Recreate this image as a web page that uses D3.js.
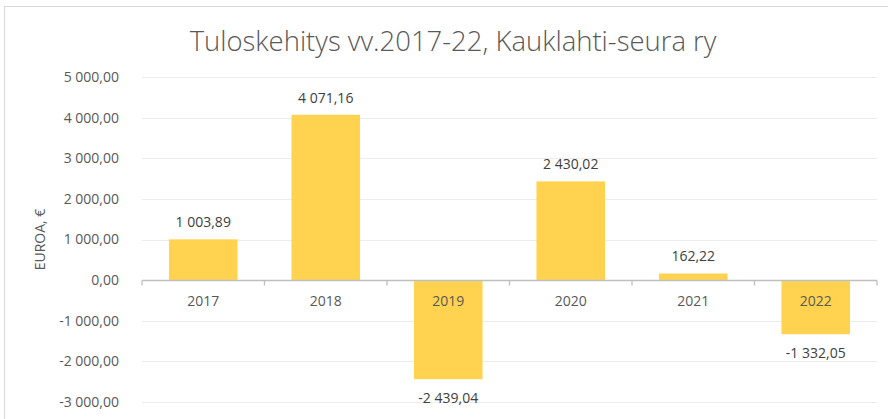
<!DOCTYPE html>
<html><head><meta charset="utf-8">
<script src="https://cdn.jsdelivr.net/npm/d3@7"></script>
<style>body{margin:0;background:#fff}svg{display:block}</style>
</head><body>
<svg id="c" width="888" height="419"></svg>
<script>
const categories = ["2017","2018","2019","2020","2021","2022"];
const values = [1003.89, 4071.16, -2439.04, 2430.02, 162.22, -1332.05];
const yTicks = [-3000,-2000,-1000,0,1000,2000,3000,4000,5000];
const title = "Tuloskehitys vv.2017-22, Kauklahti-seura ry";
const yLabel = "EUROA, €";

const svg = d3.select("#c");
const font = "'Open Sans', sans-serif";
const grey = "#595959";
const fs = 14;

svg.append("rect").attr("x",4.5).attr("y",6.5).attr("width",1000).attr("height",1000)
  .attr("fill","#fff").attr("stroke","#d9d9d9");

const x = d3.scaleBand().domain(categories).range([142,877]).paddingInner(0.44).paddingOuter(0.22);
const y = d3.scaleLinear().domain([-3000,5000]).range([402,77]);

const fmt = v => {
  const s = d3.format(",.2f")(Math.abs(v)).replace(/,/g," ").replace(".",",");
  return (v<0?"-":"") + s;
};

// gridlines
svg.append("g").selectAll("line").data(yTicks.filter(t=>t!==0)).join("line")
  .attr("x1",142).attr("x2",877).attr("y1",d=>Math.round(y(d))+0.5).attr("y2",d=>Math.round(y(d))+0.5)
  .attr("stroke","#ececec").attr("stroke-width",1);

// y tick labels
svg.append("g").selectAll("text").data(yTicks).join("text")
  .attr("x",119).attr("y",d=>y(d)).attr("dy","0.35em").attr("text-anchor","end")
  .attr("font-family",font).attr("font-size",fs).attr("fill",grey).text(fmt);

// bars
svg.append("g").selectAll("rect").data(values).join("rect")
  .attr("x",(d,i)=>x(categories[i])).attr("width",x.bandwidth())
  .attr("y",d=>y(Math.max(0,d))).attr("height",d=>Math.abs(y(d)-y(0)))
  .attr("fill","#FFD34F");

// zero axis
const ax = svg.append("g").attr("transform",`translate(0,${Math.round(y(0))+0.5})`);
ax.append("line").attr("x1",142).attr("x2",877).attr("stroke","#bfbfbf").attr("stroke-width",1.3);
const bounds = [142].concat(categories.map(c=>x(c)+x.bandwidth()+x.step()*x.paddingInner()/2));
ax.selectAll("line.t").data(bounds).join("line").attr("class","t")
  .attr("x1",d=>d).attr("x2",d=>d).attr("y1",0).attr("y2",5).attr("stroke","#bfbfbf").attr("stroke-width",1.3);

// category labels
svg.append("g").selectAll("text").data(categories).join("text")
  .attr("x",d=>x(d)+x.bandwidth()/2).attr("y",y(0)+21).attr("dy","0.35em").attr("text-anchor","middle")
  .attr("font-family",font).attr("font-size",fs).attr("fill",grey).text(d=>d);

// data labels
svg.append("g").selectAll("text").data(values).join("text")
  .attr("x",(d,i)=>x(categories[i])+x.bandwidth()/2)
  .attr("y",d=>d>=0? y(d)-17 : y(d)+19).attr("dy","0.35em").attr("text-anchor","middle")
  .attr("font-family",font).attr("font-size",fs).attr("fill","#404040").text(fmt);

// title
const t = svg.append("text").attr("x",453).attr("y",41).attr("dy","0.35em").attr("text-anchor","middle")
  .attr("font-family",font).attr("font-weight",300).attr("font-size",24).attr("fill",grey).text(title);
const w = t.node().getComputedTextLength();
t.attr("font-size", 24*527/w);

// y label
svg.append("text").attr("transform",`translate(40,${(y(5000)+y(-3000))/2}) rotate(-90)`)
  .attr("dy","0.35em").attr("text-anchor","middle")
  .attr("font-family",font).attr("font-size",14).attr("fill",grey).text(yLabel);
</script>
</body></html>
